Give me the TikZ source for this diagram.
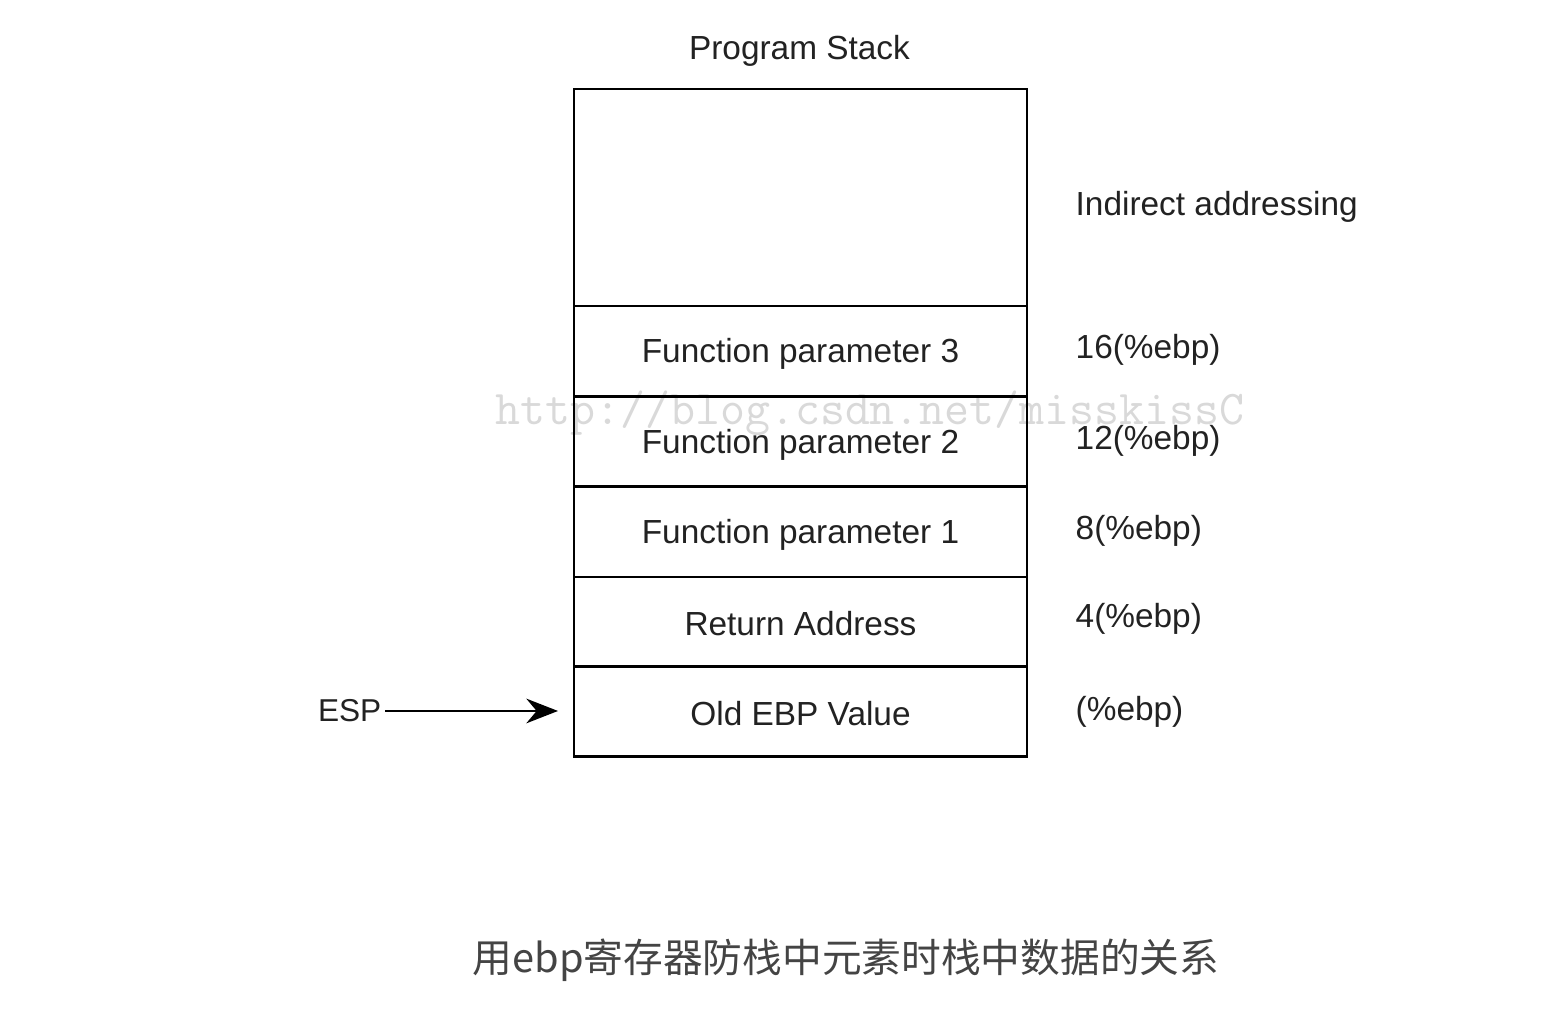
\documentclass[tikz,border=0pt]{standalone}
\usepackage{fontspec}
\setmainfont{Liberation Sans}
\newfontfamily\cjk{Noto Sans CJK SC}
\usetikzlibrary{arrows.meta}
\definecolor{txt}{HTML}{222222}
\definecolor{cap}{HTML}{444444}
\begin{document}
\begin{tikzpicture}
\useasboundingbox[fill=white] (0,0) rectangle (15.52,10.20);
\tikzset{
  cell/.style={draw=black, line width=0.75pt, inner sep=0pt, minimum width=4.53cm, minimum height=0.9cm, text=txt, font=\fontsize{9.5}{11}\selectfont},
  lbl/.style={anchor=west, inner sep=0pt, text=txt, font=\fontsize{9.5}{11}\selectfont},
}
\node[text=gray!30, font=\ttfamily\fontsize{13.8}{15}\selectfont, inner sep=0pt] (wm) at (8.70,6.07) {http://blog.csdn.net/misskissC};
\node[lbl, anchor=center] (title) at (7.995,9.69) {Program Stack};
\node[cell, minimum height=2.17cm] (top) at (8.005,8.225) {};
\node[cell] (p3) at (8.005,6.69) {};
\node[cell] (p2) at (8.005,5.785) {};
\node[cell] (p1) at (8.005,4.88) {};
\node[cell] (ret) at (8.005,3.98) {};
\node[cell] (old) at (8.005,3.085) {};
\node[lbl, anchor=center] (t3) at ([yshift=-0.03cm]p3.center) {Function parameter 3};
\node[lbl, anchor=center] (t2) at ([yshift=-0.03cm]p2.center) {Function parameter 2};
\node[lbl, anchor=center] (t1) at ([yshift=-0.03cm]p1.center) {Function parameter 1};
\node[lbl, anchor=center] (tr) at ([yshift=-0.02cm]ret.center) {Return Address};
\node[lbl, anchor=center] (to) at ([yshift=-0.02cm]old.center) {Old EBP Value};
\node[lbl] (ind) at (10.75,8.13) {Indirect addressing};
\node[lbl] (o16) at (10.75,6.70) {16(\%ebp)};
\node[lbl] (o12) at (10.75,5.79) {12(\%ebp)};
\node[lbl] (o8) at (10.75,4.89) {8(\%ebp)};
\node[lbl] (o4) at (10.75,4.01) {4(\%ebp)};
\node[lbl] (o0) at (10.75,3.08) {(\%ebp)};
\node[lbl, anchor=east, font=\fontsize{9}{11}\selectfont] (esp) at (3.82,3.09) {ESP};
\coordinate (tip) at (5.58,3.09);
\draw[line width=0.75pt, -{Stealth[length=9pt,width=7pt]}] (esp.east) ++(0.03,0) -- (tip);
\node[text=cap, font=\cjk\fontsize{11.3}{13}\selectfont, inner sep=0pt] (caption) at (8.46,0.60) {用ebp寄存器防栈中元素时栈中数据的关系};
\end{tikzpicture}
\end{document}
